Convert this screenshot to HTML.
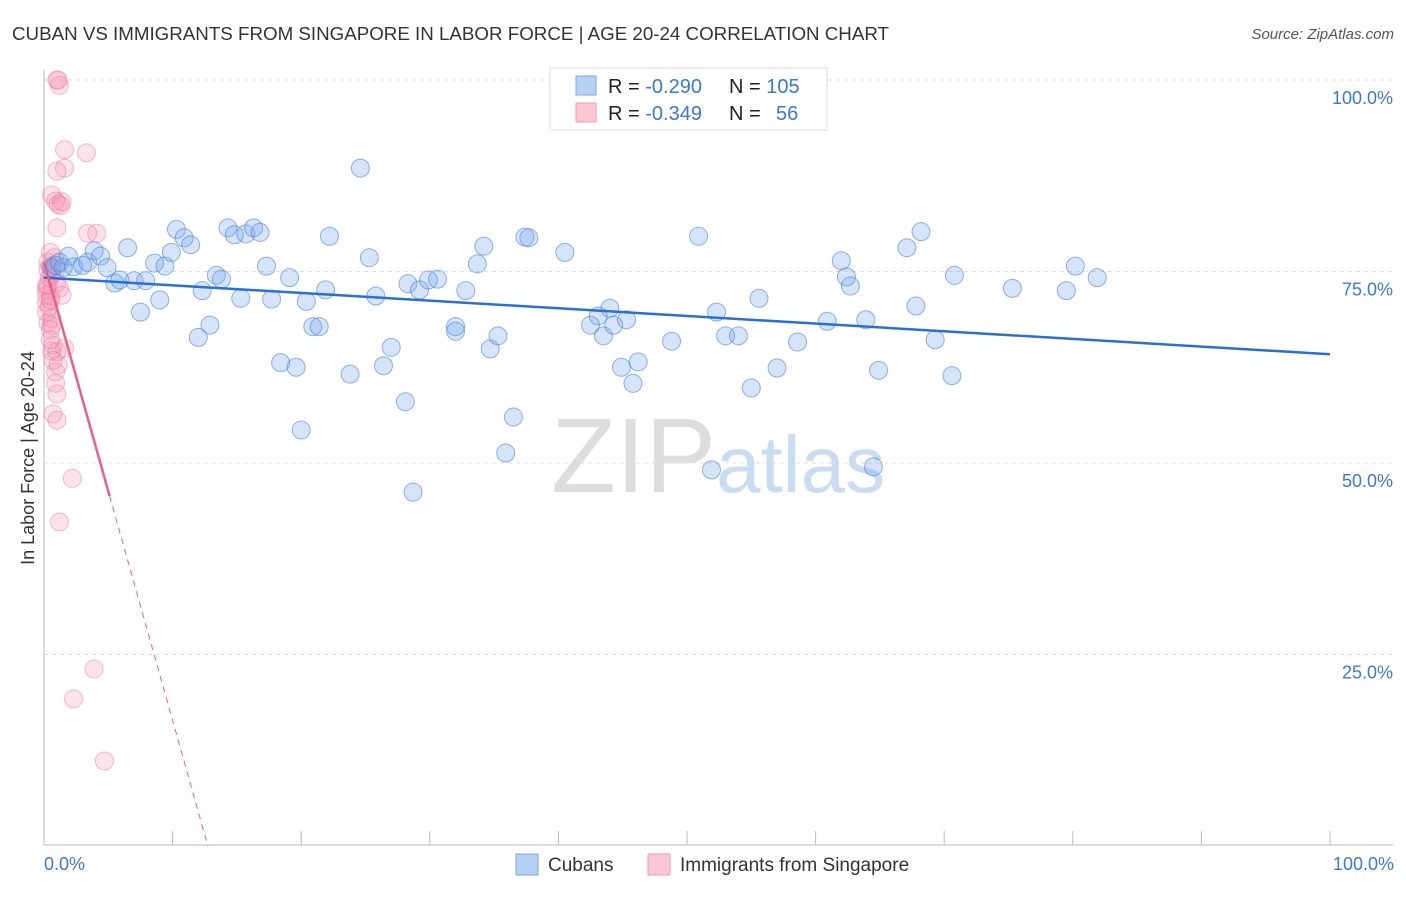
<!DOCTYPE html>
<html><head><meta charset="utf-8"><style>
body{margin:0;background:#fff;font-family:"Liberation Sans",sans-serif;}
svg text{font-family:"Liberation Sans",sans-serif;}
</style></head><body>
<svg width="1406" height="892" viewBox="0 0 1406 892" xmlns="http://www.w3.org/2000/svg">
<text x="12" y="40" font-size="18" fill="#333" textLength="877" lengthAdjust="spacingAndGlyphs">CUBAN VS IMMIGRANTS FROM SINGAPORE IN LABOR FORCE | AGE 20-24 CORRELATION CHART</text>
<text x="1394" y="39" font-size="15" fill="#555" font-style="italic" text-anchor="end">Source: ZipAtlas.com</text>
<g id="grid"></g>
<text x="716" y="492" font-size="106" fill="#ddd" text-anchor="end" font-family="Liberation Serif">ZIP</text>
<text x="716" y="492" font-size="80" fill="#c9dcf2">atlas</text>
<g id="pts"></g>
<g id="lines"></g>
<text transform="translate(34,458) rotate(-90)" font-size="18" fill="#333" text-anchor="middle">In Labor Force | Age 20-24</text>
<text x="44" y="870" font-size="18" fill="#3a78d4">0.0%</text>
<text x="1394" y="870" font-size="18" fill="#3a78d4" text-anchor="end">100.0%</text>
<g>
<rect x="550" y="68" width="277" height="62" fill="#fff" stroke="#ddd"/>
<rect x="576" y="76" width="20" height="19" fill="#b7d1f4" stroke="#7aa7e6"/>
<rect x="576" y="103" width="20" height="19" fill="#fbc6d6" stroke="#f09ab6"/>
<text x="608" y="93" font-size="20" fill="#222">R = <tspan fill="#3a78d4">-0.290</tspan><tspan x="729">N = </tspan><tspan fill="#3a78d4">105</tspan></text>
<text x="608" y="120" font-size="20" fill="#222">R = <tspan fill="#3a78d4">-0.349</tspan><tspan x="729">N = </tspan><tspan fill="#3a78d4" x="776">56</tspan></text>
</g>
<g>
<rect x="516" y="854" width="22" height="21" fill="#b7d1f4" stroke="#7aa7e6"/>
<text x="548" y="871" font-size="19" fill="#333">Cubans</text>
<rect x="648" y="854" width="22" height="21" fill="#fbc6d6" stroke="#f09ab6"/>
<text x="680" y="871" font-size="19" fill="#333">Immigrants from Singapore</text>
</g>
</svg>
<script>
const yTicks=[25,50,75,100];
const yTickLabels=["25.0%","50.0%","75.0%","100.0%"];
const xTicks=[0,10,20,30,40,50,60,70,80,90,100];
const blueX=[0.6,0.9,1.2,1.5,1.9,2.3,3.0,3.4,3.9,4.4,4.9,5.5,5.9,6.5,7.0,7.5,7.9,8.6,9.0,9.4,9.9,10.3,10.9,11.4,12.0,12.3,12.9,13.4,13.8,14.3,14.8,15.3,15.7,16.3,16.8,17.3,17.7,18.4,19.1,19.6,20.0,20.4,20.9,21.4,21.9,22.2,23.8,25.3,25.8,26.4,27.0,28.1,28.3,28.7,29.2,29.9,30.6,32.0,32.0,32.8,33.7,34.2,34.7,35.3,35.9,36.5,37.4,37.7,40.5,42.5,43.1,43.5,44.0,44.3,44.9,45.3,45.8,46.2,48.8,50.9,51.9,52.3,53.0,54.0,55.0,55.6,57.0,58.6,60.9,62.0,62.4,62.7,63.9,64.5,64.9,67.1,67.8,68.2,69.3,70.6,70.8,75.3,79.5,80.2,81.9,24.6];
const blueY=[75.5,75.8,76.2,75.5,77.0,75.6,75.8,76.2,77.7,77.0,75.5,73.5,73.9,78.1,73.8,69.7,73.8,76.1,71.3,75.7,77.5,80.5,79.4,78.5,66.4,72.5,68.0,74.5,74.0,80.7,79.8,71.5,79.9,80.7,80.1,75.7,71.4,63.1,74.2,62.5,54.3,71.1,67.8,67.8,72.6,79.6,61.6,76.8,71.8,62.7,65.1,58.0,73.4,46.2,72.6,73.9,74.0,67.8,67.2,72.5,76.0,78.3,64.9,66.6,51.3,56.0,79.5,79.4,77.5,68.0,69.2,66.6,70.2,68.0,62.5,68.7,60.4,63.2,65.9,79.6,49.1,69.7,66.6,66.6,59.8,71.5,62.4,65.8,68.5,76.4,74.3,73.1,68.7,49.5,62.1,78.1,70.5,80.2,66.1,61.4,74.5,72.8,72.5,75.7,74.2,88.5];
const pinkX=[1.0,1.2,1.1,1.6,3.3,1.6,1.0,0.6,0.9,1.1,1.4,1.3,1.0,3.4,4.1,0.5,0.3,0.5,0.3,0.6,1.0,0.2,0.5,0.2,1.4,0.4,0.6,0.3,0.6,0.5,0.7,1.6,0.6,1.0,1.1,0.9,0.9,1.0,0.7,1.0,2.2,1.2,3.9,2.3,4.7,0.2,0.4,0.8,0.5,0.2,0.2,0.9,0.5,1.2,0.3,0.7];
const pinkY=[100,99.3,100,90.9,90.5,88.5,88.1,85.0,84.2,83.8,84.1,83.6,80.7,80.0,80.0,77.5,76.2,75.7,75.2,74.5,73.5,72.6,71.8,71.0,71.9,70.4,68.9,68.3,68.0,67.4,65.4,65.0,64.6,64.5,62.8,61.9,60.4,59.0,56.4,55.6,48.0,42.3,23.1,19.2,11.1,73.2,74.2,76.8,66.1,69.7,71.9,75.2,71.3,72.8,73.2,63.4];
const blueTrend=[74.2,64.2];
const pinkTrend=[76.2,-5.98];
const pinkSolidEnd=5.1;

const NS="http://www.w3.org/2000/svg";
const X0=44,X1=1330,Y0=846,Y100=80;
function sx(v){return X0+(X1-X0)*v/100;}
function sy(v){return Y0-(Y0-Y100)*v/100;}
function mk(tag,attrs,parent){const e=document.createElementNS(NS,tag);for(const k in attrs)e.setAttribute(k,attrs[k]);parent.appendChild(e);return e;}
const grid=document.getElementById('grid');
yTicks.forEach((t,i)=>{
  const l=mk('line',{x1:X0,x2:1393,y1:sy(t),y2:sy(t),stroke:'#ddd','stroke-dasharray':'4,4'},grid);
  
  
  const tx=mk('text',{x:1393,y:sy(t)+24,'font-size':18,fill:'#3a78d4','text-anchor':'end'},grid);
  tx.textContent=yTickLabels[i];
  
  
});
const ax=mk('line',{x1:X0,x2:1393,y1:845,y2:845,stroke:'#bbb'},grid);


const ay=mk('line',{x1:X0,x2:X0,y1:70,y2:845,stroke:'#bbb'},grid);


xTicks.forEach(t=>{
  const l=mk('line',{x1:sx(t),x2:sx(t),y1:831,y2:845,stroke:'#bbb'},grid);
  
  
});
const pts=document.getElementById('pts');
pinkX.forEach((x,i)=>{
  const c=mk('circle',{cx:sx(x),cy:sy(pinkY[i]),r:9,fill:'rgba(244,143,177,0.25)',stroke:'rgba(236,120,160,0.5)','stroke-width':1},pts);
  
  
});
blueX.forEach((x,i)=>{
  const c=mk('circle',{cx:sx(x),cy:sy(blueY[i]),r:9,fill:'rgba(120,165,235,0.3)',stroke:'rgba(70,130,220,0.6)','stroke-width':1},pts);
  
  
});
const lines=document.getElementById('lines');
const bl=mk('line',{x1:sx(0),y1:sy(blueTrend[0]),x2:sx(100),y2:sy(blueTrend[1]),stroke:'#2a6fd6','stroke-width':2.5},lines);


function py(x){return pinkTrend[0]+pinkTrend[1]*x;}
const pxEnd=-pinkTrend[0]/pinkTrend[1];
const ps=mk('line',{x1:sx(0),y1:sy(py(0)),x2:sx(pinkSolidEnd),y2:sy(py(pinkSolidEnd)),stroke:'#e8608a','stroke-width':2.5},lines);


const pd=mk('line',{x1:sx(pinkSolidEnd),y1:sy(py(pinkSolidEnd)),x2:sx(pxEnd),y2:sy(0),stroke:'#e8608a','stroke-width':1,'stroke-dasharray':'6,5'},lines);


</script>
</body></html>
